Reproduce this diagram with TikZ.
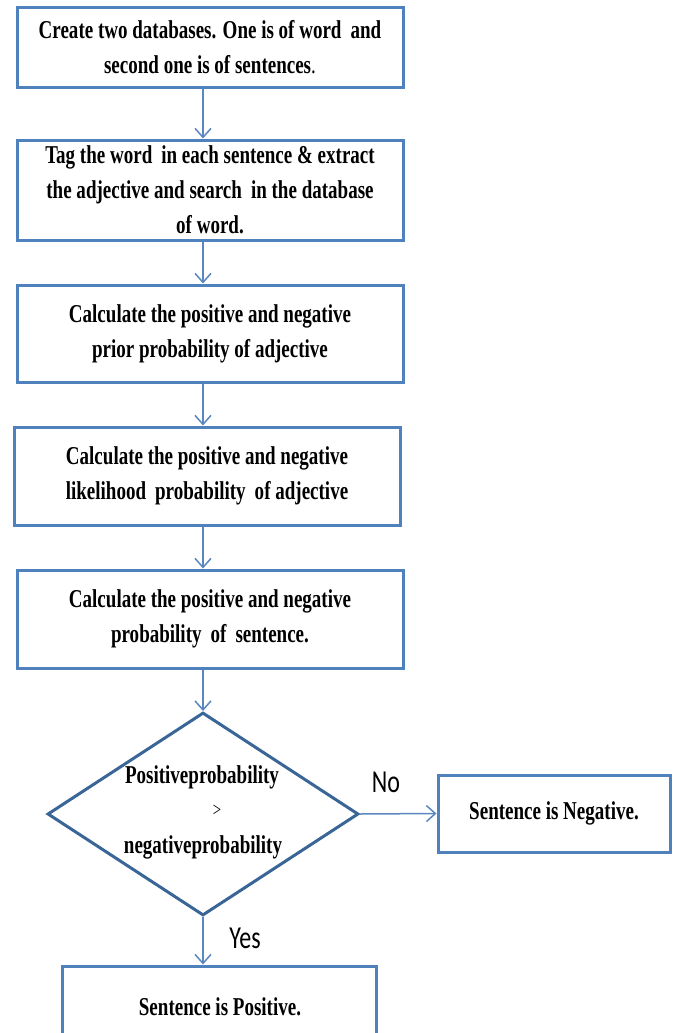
\documentclass[tikz,border=0pt]{standalone}
\usepackage{fontspec}
\setmainfont{Liberation Serif}[FakeStretch=0.74]
\newfontfamily\labfont{Carlito}[FakeStretch=0.75]
\usetikzlibrary{shapes.geometric,arrows.meta}
\definecolor{boxblue}{HTML}{4F81BD}
\definecolor{diablue}{HTML}{3A6597}
\definecolor{arrblue}{HTML}{5B87C0}
\tikzset{
  stepbox/.style={draw=boxblue, line width=3pt, rectangle, inner sep=0pt,
    align=center, font=\fontsize{25.7}{35}\selectfont\bfseries},
  txt/.style={inner sep=0pt, align=center, font=\fontsize{25.7}{35}\selectfont\bfseries},
  arr/.style={draw=arrblue, line width=1.5pt, -{Straight Barb[length=9pt,width=16pt,line width=1.5pt]}},
  lab/.style={inner sep=0pt, font=\fontsize{32}{34}\selectfont\labfont}
}
\begin{document}
\begin{tikzpicture}[x=1pt,y=-1pt]
\useasboundingbox (0,0) rectangle (674,1033);
\clip (0,0) rectangle (674,1033);
\node[stepbox, minimum width=386pt, minimum height=79pt] (b1) at (210,47.5)
  {Create two databases. One is of word\, and\\ second one is of sentences\textmd{.}};
\node[stepbox, minimum width=386pt, minimum height=100pt] (b2) at (210,190)
  {Tag the word\, in each sentence \& extract\\ the adjective and search\, in the database\\ of word.};
\node[stepbox, minimum width=386pt, minimum height=97pt] (b3) at (210,333.5)
  {Calculate the positive and negative\\ prior probability of adjective};
\node[stepbox, minimum width=386pt, minimum height=98pt] (b4) at (207,476)
  {Calculate the positive and negative\\ likelihood\, probability\, of adjective};
\node[stepbox, minimum width=386pt, minimum height=98pt] (b5) at (210,619)
  {Calculate the positive and negative\\ probability\, of\, sentence.};
\node[diamond, draw=diablue, line width=3pt, minimum width=311pt, minimum height=203pt,
  inner sep=0pt, aspect=1.53] (dec) at (203,814) {};
\node[txt] (dt1) at (202,777) {Positiveprobability};
\node[txt, font=\fontsize{20}{20}\selectfont] (dt2) at (217,811) {>};
\node[txt] (dt3) at (203,847) {negativeprobability};
\node[stepbox, minimum width=232pt, minimum height=77pt] (neg) at (554,813.5)
  {Sentence is Negative.};
\node[stepbox, minimum width=314pt, minimum height=80pt] (pos) at (219,1006) {};
\node[txt] (post) at (220,1007) {Sentence is Positive.};
\node[lab] (no) at (386,782) {No};
\node[lab] (yes) at (245,938) {Yes};
\coordinate (ax) at (203,0);
\draw[arr] (b1.south -| ax) -- (b2.north -| ax);
\draw[arr] (b2.south -| ax) -- (b3.north -| ax);
\draw[arr] (b3.south -| ax) -- (b4.north -| ax);
\draw[arr] (b4.south -| ax) -- (b5.north -| ax);
\draw[arr] (b5.south -| ax) -- (dec.north);
\draw[arr] (dec.east) -- (neg.west);
\draw[arr] (dec.south) -- (pos.north -| dec.south);
\end{tikzpicture}
\end{document}
